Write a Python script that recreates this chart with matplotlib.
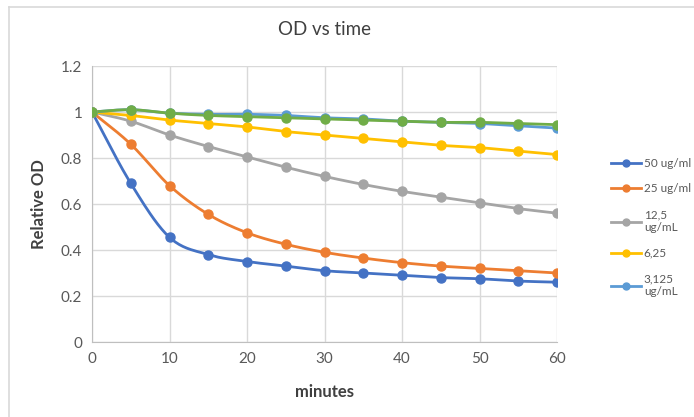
import matplotlib
matplotlib.use('Agg')
import matplotlib.pyplot as plt
from matplotlib.lines import Line2D
import numpy as np

plt.rcParams['font.family'] = ['Lato', 'DejaVu Sans']

minutes = [0, 5, 10, 15, 20, 25, 30, 35, 40, 45, 50, 55, 60]

od_50 = [1.0, 0.69, 0.455, 0.38, 0.35, 0.33, 0.31, 0.30, 0.29, 0.28, 0.275, 0.265, 0.26]
od_25 = [1.0, 0.86, 0.68, 0.555, 0.475, 0.425, 0.39, 0.365, 0.345, 0.33, 0.32, 0.31, 0.30]
od_12 = [1.0, 0.96, 0.90, 0.85, 0.805, 0.76, 0.72, 0.685, 0.655, 0.63, 0.605, 0.58, 0.56]
od_6 = [1.0, 0.985, 0.965, 0.95, 0.935, 0.915, 0.90, 0.885, 0.87, 0.855, 0.845, 0.83, 0.815]
od_3 = [1.0, 1.01, 0.995, 0.99, 0.99, 0.985, 0.975, 0.97, 0.96, 0.955, 0.95, 0.94, 0.93]
od_ctrl = [1.0, 1.01, 0.995, 0.985, 0.98, 0.975, 0.97, 0.965, 0.96, 0.955, 0.955, 0.95, 0.945]

labels = ['50 ug/ml', '25 ug/ml', '12,5\nug/mL', '6,25', '3,125\nug/mL', None]
colors = ['#4472C4', '#ED7D31', '#A5A5A5', '#FFC000', '#5B9BD5', '#70AD47']
series = [od_50, od_25, od_12, od_6, od_3, od_ctrl]


def smooth(x, y, n=20):
    # Catmull-Rom through the points, like the spreadsheet "smoothed line"
    x = np.asarray(x, float)
    y = np.asarray(y, float)
    px = np.concatenate([[2 * x[0] - x[1]], x, [2 * x[-1] - x[-2]]])
    py = np.concatenate([[2 * y[0] - y[1]], y, [2 * y[-1] - y[-2]]])
    xs, ys = [], []
    t = np.linspace(0, 1, n, endpoint=False)
    for i in range(1, len(px) - 2):
        for p, out in ((px, xs), (py, ys)):
            p0, p1, p2, p3 = p[i - 1], p[i], p[i + 1], p[i + 2]
            out.extend(0.5 * (2 * p1 + (-p0 + p2) * t
                              + (2 * p0 - 5 * p1 + 4 * p2 - p3) * t ** 2
                              + (-p0 + 3 * p1 - 3 * p2 + p3) * t ** 3))
    xs.append(x[-1])
    ys.append(y[-1])
    return xs, ys


fig = plt.figure(figsize=(6.94, 4.17), dpi=100)
ax = fig.add_axes([92 / 694, 1 - 342 / 417, 465 / 694, 276 / 417])

# chart frame, only top and left edges fall inside the image
fig.add_artist(Line2D([8.5 / 694, 1], [1 - 6.5 / 417] * 2, color='#d9d9d9', lw=1.2,
                      transform=fig.transFigure))
fig.add_artist(Line2D([8.5 / 694] * 2, [0, 1 - 6.5 / 417], color='#d9d9d9', lw=1.2,
                      transform=fig.transFigure))

handles = []
for vals, col, lab in zip(series, colors, labels):
    sx, sy = smooth(minutes, vals)
    ax.plot(sx, sy, color=col, lw=2, zorder=3)
    ax.plot(minutes, vals, 'o', color=col, ms=6.5, zorder=4)
    if lab:
        h, = ax.plot([], [], color=col, lw=2, marker='o', ms=5, label=lab)
        handles.append(h)

ax.set_xlim(0, 60)
ax.set_ylim(0, 1.2)
ax.set_xticks(range(0, 61, 10))
ax.set_yticks(np.arange(0, 1.21, 0.2))
ax.set_yticklabels(['0', '0.2', '0.4', '0.6', '0.8', '1', '1.2'])
ax.grid(True, color='#d9d9d9', lw=1)
ax.set_axisbelow(True)
for s in ['top', 'right']:
    ax.spines[s].set_visible(False)
for s in ['left', 'bottom']:
    ax.spines[s].set_color('#bfbfbf')
ax.tick_params(length=0, labelsize=11, colors='#595959', pad=7)

ax.set_title('OD vs time', fontsize=13.5, color='#404040', pad=22)
ax.set_xlabel('minutes', fontsize=12, fontweight='bold', color='#404040', labelpad=13)
ax.set_ylabel('Relative OD', fontsize=12, fontweight='bold', color='#404040', labelpad=10)

fig.legend(handles=handles, loc='upper left', bbox_to_anchor=(606 / 694, 1 - 153 / 417),
           frameon=False, fontsize=8.5, handlelength=2.6, labelspacing=1.25,
           handletextpad=0.2, labelcolor='#595959', borderaxespad=0)

fig.savefig('out.png', dpi=100)
